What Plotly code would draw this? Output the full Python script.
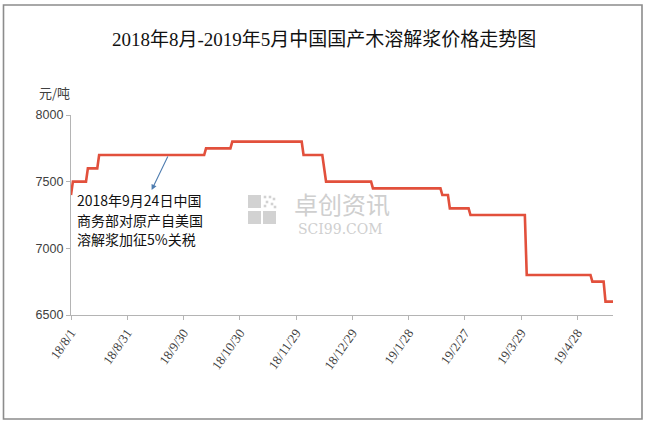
import plotly.graph_objects as go

# ---- data ----
dates = [
    "2018-08-01", "2018-08-02", "2018-08-09", "2018-08-10", "2018-08-15", "2018-08-16",
    "2018-10-11", "2018-10-12", "2018-10-25", "2018-10-26", "2018-12-02", "2018-12-03",
    "2018-12-13", "2018-12-15", "2019-01-08", "2019-01-09", "2019-02-14", "2019-02-15",
    "2019-02-18", "2019-02-19", "2019-03-01", "2019-03-02", "2019-03-31", "2019-04-01",
    "2019-05-05", "2019-05-06", "2019-05-12", "2019-05-13", "2019-05-17",
]
prices = [
    7400, 7500, 7500, 7600, 7600, 7700,
    7700, 7750, 7750, 7800, 7800, 7700,
    7700, 7500, 7500, 7450, 7450, 7400,
    7400, 7300, 7300, 7250, 7250, 6800,
    6800, 6750, 6750, 6600, 6600,
]
tick_dates = ["2018-08-01", "2018-08-31", "2018-09-30", "2018-10-30", "2018-11-29",
              "2018-12-29", "2019-01-28", "2019-02-27", "2019-03-29", "2019-04-28"]
tick_labels = ["18/8/1", "18/8/31", "18/9/30", "18/10/30", "18/11/29",
               "18/12/29", "19/1/28", "19/2/27", "19/3/29", "19/4/28"]
y_ticks = [6500, 7000, 7500, 8000]

title_text = "2018年8月-2019年5月中国国产木溶解浆价格走势图"
note_lines = ["2018年9月24日中国", "商务部对原产自美国", "溶解浆加征5%关税"]

W, H = 647, 424
L, R, T, B = 71, 613, 115, 315

def px(x):
    return (x - L) / (R - L)

def py(y):
    return (B - y) / (B - T)

fig = go.Figure()
fig.add_trace(go.Scatter(
    x=dates, y=prices, mode="lines",
    line=dict(color="#E2503C", width=2.6),
    hoverinfo="skip", showlegend=False,
))

axis_col = "#b4b4b4"
fig.update_layout(
    width=W, height=H,
    margin=dict(l=L, r=W - R, t=T, b=H - B),
    paper_bgcolor="white", plot_bgcolor="white",
    showlegend=False,
    xaxis=dict(
        type="date", range=[dates[0], dates[-1]],
        tickmode="array", tickvals=tick_dates, ticktext=tick_labels,
        tickangle=-55, showgrid=False, zeroline=False,
        showline=True, linecolor=axis_col, linewidth=1.3,
        ticks="outside", ticklen=4, tickcolor=axis_col,
        tickfont=dict(family="Liberation Serif, serif", size=13, color="#404040"),
    ),
    yaxis=dict(
        range=[6500, 8000], tickmode="array", tickvals=y_ticks,
        showgrid=False, zeroline=False,
        showline=True, linecolor=axis_col, linewidth=1.3,
        ticks="outside", ticklen=4, tickcolor=axis_col,
        tickfont=dict(family="Liberation Sans, Arial, sans-serif", size=12.5, color="#404040"),
    ),
)

annots = [
    dict(xref="paper", yref="paper", x=px(W / 2), y=py(39),
         text=title_text, showarrow=False, xanchor="center", yanchor="middle",
         font=dict(family="Liberation Serif, Noto Sans CJK SC, serif", size=19, color="#111111")),
    dict(xref="paper", yref="paper", x=px(54), y=py(92),
         text="元/吨", showarrow=False, xanchor="center", yanchor="middle",
         font=dict(family="Noto Sans CJK SC, sans-serif", size=13, color="#404040")),
    dict(xref="x", yref="y", x="2018-09-13", y=7437, ax="2018-09-22", ay=7700,
         axref="x", ayref="y", text="", showarrow=True, arrowhead=2, arrowsize=1,
         arrowwidth=1.1, arrowcolor="#4F7DB0"),
    dict(xref="paper", yref="paper", x=px(342), y=py(203),
         text="卓创资讯", showarrow=False, xanchor="center", yanchor="middle",
         font=dict(family="Noto Sans CJK SC, sans-serif", size=24, color="#cfcfcf")),
    dict(xref="paper", yref="paper", x=px(340), y=py(228.5),
         text="SCI99.COM", showarrow=False, xanchor="center", yanchor="middle",
         font=dict(family="DejaVu Serif, serif", size=14, color="#cfcfcf")),
]
for line, yc in zip(note_lines, [200, 219.5, 239]):
    annots.append(dict(xref="paper", yref="paper", x=px(75), y=py(yc),
                       text=line, showarrow=False, xanchor="left", yanchor="middle",
                       font=dict(family="Noto Sans CJK SC, sans-serif", size=14, color="#111111")))
fig.update_layout(annotations=annots)

shapes = [
    dict(type="rect", xref="paper", yref="paper",
         x0=px(3.5), x1=px(642), y0=py(5), y1=py(419),
         line=dict(color="#8c8c8c", width=1.6), fillcolor="rgba(0,0,0,0)", layer="below"),
]
wm = "#d2d2d2"
for (x0, y0, x1, y1) in [(248, 195, 261, 208), (248, 211, 261, 224), (263, 211, 276, 224)]:
    shapes.append(dict(type="rect", xref="paper", yref="paper",
                       x0=px(x0), x1=px(x1), y0=py(y0), y1=py(y1),
                       line=dict(width=0), fillcolor=wm, layer="below"))
for (cx, cy) in [(265, 197), (270, 197), (274, 199), (267, 202), (272, 204), (265, 206), (275, 207)]:
    shapes.append(dict(type="rect", xref="paper", yref="paper",
                       x0=px(cx - 1.3), x1=px(cx + 1.3), y0=py(cy - 1.3), y1=py(cy + 1.3),
                       line=dict(width=0), fillcolor=wm, layer="below"))
fig.update_layout(shapes=shapes)

fig.write_html(
    "out.html",
    config={"displayModeBar": False},
    post_script="document.body.style.margin='0';document.body.style.overflow='hidden';",
)
